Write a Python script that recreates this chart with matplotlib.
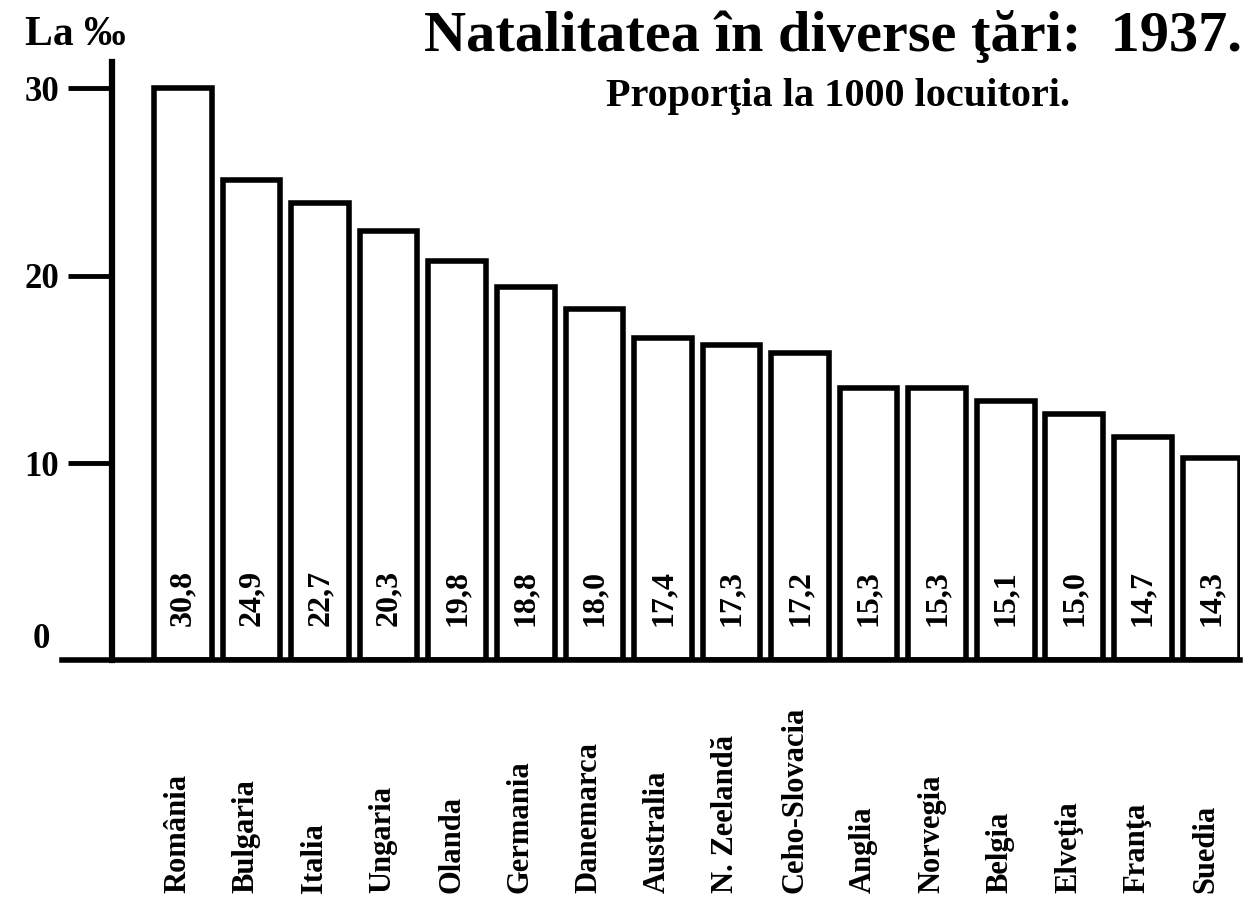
import matplotlib
matplotlib.use("Agg")
import matplotlib.pyplot as plt
from matplotlib.transforms import blended_transform_factory

plt.rcParams["font.family"] = ["Liberation Serif", "DejaVu Serif"]
plt.rcParams["font.weight"] = "bold"

tari = ["România", "Bulgaria", "Italia", "Ungaria", "Olanda", "Germania",
        "Danemarca", "Australia", "N. Zeelandă", "Ceho-Slovacia", "Anglia",
        "Norvegia", "Belgia", "Elveţia", "Franţa", "Suedia"]
# bar heights as drawn on the axis (per 1000)
inaltimi = [30.0, 25.1, 23.9, 22.4, 20.8, 19.4, 18.2, 16.7, 16.3, 15.9,
            14.0, 14.0, 13.3, 12.6, 11.4, 10.3]
# figures printed inside the bars
etichete = ["30,8", "24,9", "22,7", "20,3", "19,8", "18,8", "18,0", "17,4",
            "17,3", "17,2", "15,3", "15,3", "15,1", "15,0", "14,7", "14,3"]
y_ticks = [10, 20, 30]

fig = plt.figure(figsize=(12.46, 8.97), dpi=100)
ax = fig.add_axes([0.0498, 0.264, 0.945, 0.667])

x = list(range(len(tari)))
baza = -0.5
ax.bar(x, [h - baza for h in inaltimi], bottom=baza, width=0.84,
       color="white", edgecolor="black", linewidth=4)

for xi, txt in zip(x, etichete):
    ax.text(xi, 2.8, txt, rotation=90, ha="center", va="center",
            fontsize=23, fontweight="bold")

trans = blended_transform_factory(ax.transData, fig.transFigure)
for xi, nume in zip(x, tari):
    ax.text(xi - 0.08, 0.005, nume, rotation=90, ha="center", va="bottom",
            fontsize=22, fontweight="bold", transform=trans)

ax.set_xlim(-1.764, 15.41)
ax.set_ylim(baza, 31.4)
ax.set_xticks([])
ax.set_yticks(y_ticks)
ax.set_yticklabels([str(v) for v in y_ticks])
ax.tick_params(axis="y", length=32, width=3.5, pad=6, labelsize=25)
# the zero has a label but no tick mark
ax.text(-1.94, 0.6, "0", ha="right", va="center", fontsize=25,
        fontweight="bold")

ax.spines["top"].set_visible(False)
ax.spines["right"].set_visible(False)
ax.spines["left"].set_position(("data", -1.035))
ax.spines["left"].set_linewidth(4.5)
ax.spines["bottom"].set_linewidth(4)

fig.text(0.997, 0.959, "Natalitatea în diverse ţări:  1937.", ha="right",
         va="center", fontsize=42, fontweight="bold")
fig.text(0.6726, 0.892, "Proporţia la 1000 locuitori.", ha="center",
         va="center", fontsize=29, fontweight="bold")
fig.text(0.02, 0.961, "La ‰", ha="left", va="center", fontsize=30,
         fontweight="bold")

fig.savefig("out.png", dpi=100, facecolor="white")
